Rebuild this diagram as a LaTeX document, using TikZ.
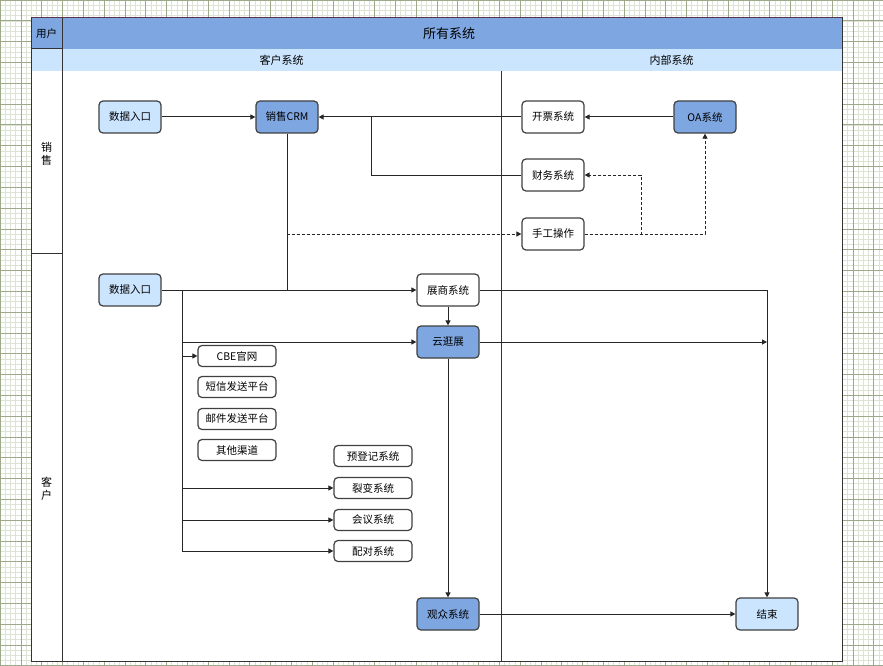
\documentclass[tikz,border=0pt]{standalone}
\usepackage{fontspec}
\setmainfont{Noto Sans CJK SC}
\usetikzlibrary{arrows.meta}

\definecolor{darkblue}{HTML}{7EA6E0}
\definecolor{lightblue}{HTML}{CCE5FF}
\definecolor{poolline}{HTML}{333333}
\definecolor{topline}{HTML}{5A3550}
\definecolor{gridminor}{HTML}{DDE3D4}
\definecolor{gridmajor}{HTML}{9DAA8A}

\tikzset{
    box/.style = {draw = black!75, line width = 1.2pt, rounded corners = 4pt,
        minimum width = 62pt, minimum height = 32pt, inner sep = 0pt,
        font = \fontsize{10.5}{12}\selectfont},
    smallbox/.style = {box, minimum width = 78pt, minimum height = 21pt},
    line/.style = {draw = black!85, line width = 1pt},
    dashline/.style = {line, dash pattern = on 3pt off 2pt},
    arr/.style = {-{Triangle[length = 5pt, width = 5pt]}}
}

\begin{document}
\begin{tikzpicture}[x = 1pt, y = -1pt]
    \useasboundingbox (0,0) rectangle (883,666);
    % paper grid
    \draw[gridminor, line width = 0.4pt, step = 5.2pt] (0,0) grid (883,666);
    \draw[gridmajor, line width = 0.6pt, step = 20.8pt] (0,0) grid (883,666);

    % pool
    \fill[white] (31,18) rectangle (842,661);
    \fill[darkblue] (31,18) rectangle (842,49);
    \fill[lightblue] (31,49) rectangle (842,71);
    \draw[poolline, line width = 1pt] (31,18) rectangle (842,661);
    \draw[topline, line width = 1pt] (31,18) -- (842,18);
    \draw[poolline, line width = 1pt] (31,49) -- (62,49);
    \draw[poolline, line width = 1pt] (62,18) -- (62,661);
    \draw[poolline, line width = 1pt] (31,253) -- (62,253);
    \draw[poolline, line width = 1pt] (501,71) -- (501,661);

    \node (user) at (46.5,33.5) {\fontsize{10.5}{12}\selectfont 用户};
    \node (allsys) at (449,33.5) {\fontsize{13}{15}\selectfont 所有系统};
    \node (custsys) at (281.5,60) {\fontsize{11}{13}\selectfont 客户系统};
    \node (innersys) at (671.5,60) {\fontsize{11}{13}\selectfont 内部系统};
    \node (sales)[align = center, font = \fontsize{11}{13}\selectfont] at (46.5,154) {销\\售};
    \node (cust)[align = center, font = \fontsize{11}{13}\selectfont] at (46.5,489) {客\\户};

    % sales lane
    \node (in1)[box, fill = lightblue] at (130,117) {数据入口};
    \node (crm)[box, fill = darkblue] at (287,117) {销售CRM};
    \node (kp)[box, fill = white] at (553,117) {开票系统};
    \node (oa)[box, fill = darkblue] at (705,117) {OA系统};
    \node (cw)[box, fill = white] at (553,175) {财务系统};
    \node (sg)[box, fill = white] at (553,234) {手工操作};

    % customer lane
    \node (in2)[box, fill = lightblue] at (130,290) {数据入口};
    \node (zs)[box, fill = white] at (448,290) {展商系统};
    \node (yg)[box, fill = darkblue] at (448,342) {云逛展};
    \node (cbe)[smallbox, fill = white] at (237,356) {CBE官网};
    \node (dx)[smallbox, fill = white] at (237,387) {短信发送平台};
    \node (yj)[smallbox, fill = white] at (237,419) {邮件发送平台};
    \node (qt)[smallbox, fill = white] at (237,450) {其他渠道};
    \node (ydj)[smallbox, fill = white] at (373,456) {预登记系统};
    \node (lb)[smallbox, fill = white] at (373,488) {裂变系统};
    \node (hy)[smallbox, fill = white] at (373,520) {会议系统};
    \node (pd)[smallbox, fill = white] at (373,551) {配对系统};
    \node (gz)[box, fill = darkblue] at (448,614) {观众系统};
    \node (end)[box, fill = lightblue] at (767,614) {结束};

    \coordinate (j1) at (371,117);
    \coordinate (fk) at (641,175);
    \coordinate (br) at (182,290);
    \coordinate (ec) at (767,290);

    % sales links
    \path (in1) edge[line, arr] (crm);
    \path (kp) edge[line, arr] (crm);
    \path (oa) edge[line, arr] (kp);
    \draw[line] (cw.west) -| (j1);
    \draw[line] (crm.south) -- (crm.south |- in2.east);
    \draw[dashline, arr] (crm.south) |- (sg.west);
    \draw[dashline, arr] (sg.east) -| (fk) -- (cw.east);
    \draw[dashline, arr] (sg.east) -| (oa.south);

    % customer links
    \path (in2) edge[line, arr] (zs);
    \draw[line] (br) -- (br |- pd.west);
    \foreach \t in {yg, cbe, lb, hy, pd}
        \draw[line, arr] (br |- \t.west) -- (\t.west);
    \path (zs) edge[line, arr] (yg);
    \draw[line, arr] (zs.east) -- (ec) -- (end.north);
    \draw[line, arr] (yg.east) -- (yg.east -| ec);
    \path (yg) edge[line, arr] (gz);
    \path (gz) edge[line, arr] (end);
\end{tikzpicture}
\end{document}
